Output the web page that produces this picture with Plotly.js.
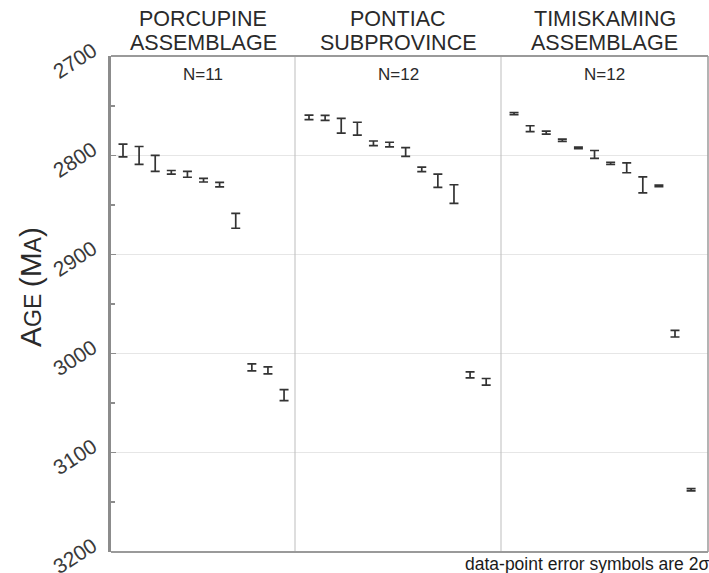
<!DOCTYPE html>
<html>
<head>
<meta charset="utf-8">
<script src="https://cdn.plot.ly/plotly-3.0.1.min.js"></script>
<style>html,body{margin:0;padding:0;background:#fff;}#chart{width:709px;height:573px;}</style>
</head>
<body>
<div id="chart"></div>
<script>
// Panel names and sample counts
const panelLine1 = ["PORCUPINE", "PONTIAC", "TIMISKAMING"];
const panelLine2 = ["ASSEMBLAGE", "SUBPROVINCE", "ASSEMBLAGE"];
const panelCounts = ["N=11", "N=12", "N=12"];

// Ages (Ma) and 2-sigma errors
const porcupineAge = [2795, 2800, 2808, 2817, 2819, 2825, 2829.5, 2866, 3014, 3017, 3042];
const porcupineErr = [6.5, 9, 8, 1.8, 3, 1.8, 2.3, 7.5, 3.5, 3.5, 5.5];

const pontiacAge = [2761.5, 2762, 2770, 2773, 2787.7, 2789, 2796.5, 2814, 2825.6, 2839, 3021.6, 3028.6];
const pontiacErr = [2.3, 2.5, 7.5, 6.5, 2.3, 2.3, 4.4, 2.3, 6.7, 9.4, 3, 3.4];

const timiskamingAge = [2757.8, 2773, 2777, 2784.7, 2792.4, 2799, 2808, 2812.5, 2829.7, 2830.7, 2980, 3137.5];
const timiskamingErr = [1.1, 3, 1.5, 1.1, 0.8, 4, 1.1, 5, 8, 0.8, 3.3, 1.1];

const yTickVals = [2700, 2800, 2900, 3000, 3100, 3200];
const yTickText = ["2700", "2800", "2900", "3000", "3100", "3200"];

function idx(arr){ return arr.map((_, i) => i + 1); }

const errStyle = {thickness: 1.7, width: 4.5, color: '#333'};
function trace(ages, errs, xa){
  return {
    x: idx(ages), y: ages, xaxis: xa, yaxis: 'y',
    type: 'scatter', mode: 'markers',
    marker: {size: 1, color: 'rgba(0,0,0,0)'},
    error_y: Object.assign({type: 'data', array: errs, visible: true, symmetric: true}, errStyle),
    hoverinfo: 'y', showlegend: false
  };
}

const data = [
  trace(porcupineAge, porcupineErr, 'x'),
  trace(pontiacAge, pontiacErr, 'x2'),
  trace(timiskamingAge, timiskamingErr, 'x3')
];

const W = 597;
const d1 = 184 / W, d2 = 390 / W;
const xbase = {showgrid: false, zeroline: false, showticklabels: false, ticks: '', showline: false, fixedrange: true};

const font = "Liberation Sans, Arial, Helvetica, sans-serif";
const centers = [d1 / 2, (d1 + d2) / 2, (d2 + 1) / 2];

const annotations = [];
panelLine1.forEach((t, i) => {
  annotations.push({xref: 'paper', yref: 'paper', x: centers[i], y: 1, yshift: 37, text: t, showarrow: false,
    xanchor: 'center', yanchor: 'middle', font: {family: font, size: 21.5, color: '#2a2a2a'}});
  annotations.push({xref: 'paper', yref: 'paper', x: centers[i], y: 1, yshift: 13, text: panelLine2[i], showarrow: false,
    xanchor: 'center', yanchor: 'middle', font: {family: font, size: 21.5, color: '#2a2a2a'}});
  annotations.push({xref: 'paper', yref: 'paper', x: centers[i], y: 1, yshift: -18, text: panelCounts[i], showarrow: false,
    xanchor: 'center', yanchor: 'middle', font: {family: font, size: 17, color: '#2a2a2a'}});
});
annotations.push({xref: 'paper', yref: 'paper', x: 1, xshift: 3, y: 0, yshift: -12, text: 'data-point error symbols are 2σ',
  showarrow: false, xanchor: 'right', yanchor: 'middle', font: {family: font, size: 17.5, color: '#1a1a1a'}});
annotations.push({xref: 'paper', yref: 'paper', x: 0, xshift: -81, y: 0.5, yshift: 17,
  text: '<span style="font-size:30px">A</span>GE <span style="font-size:30px">(M</span>A<span style="font-size:30px">)</span>',
  showarrow: false, textangle: -90, xanchor: 'center', yanchor: 'middle', font: {family: font, size: 23, color: '#2a2a2a'}});

const shapes = [
  {type: 'line', xref: 'paper', yref: 'paper', x0: d1, x1: d1, y0: 0, y1: 1, line: {color: '#bdbdbd', width: 1}},
  {type: 'line', xref: 'paper', yref: 'paper', x0: d2, x1: d2, y0: 0, y1: 1, line: {color: '#bdbdbd', width: 1}},
  {type: 'line', xref: 'paper', yref: 'paper', x0: 0, x1: 1, y0: 1, y1: 1, line: {color: '#9a9a9a', width: 2}},
  {type: 'line', xref: 'paper', yref: 'paper', x0: 0, x1: 1, y0: 0, y1: 0, line: {color: '#9a9a9a', width: 2}},
  {type: 'line', xref: 'paper', yref: 'paper', x0: 1, x1: 1, y0: 0, y1: 1, line: {color: '#9a9a9a', width: 1.5}}
];

const layout = {
  width: 709, height: 573,
  margin: {l: 111, r: 1, t: 56, b: 21, pad: 0},
  paper_bgcolor: '#fff', plot_bgcolor: '#fff',
  showlegend: false,
  xaxis: Object.assign({domain: [0, d1], range: [0.255, 11.68]}, xbase),
  xaxis2: Object.assign({domain: [d1, d2], range: [0.13, 12.92]}, xbase),
  xaxis3: Object.assign({domain: [d2, 1], range: [0.19, 13.05]}, xbase),
  yaxis: {
    range: [3200.4, 2699.6], tickvals: yTickVals, ticktext: yTickText,
    tickangle: -33, tickfont: {family: font, size: 21, color: '#3a3a3a'},
    ticks: 'inside', ticklen: 5, tickcolor: '#8c8c8c', tickwidth: 1.5,
    minor: {dtick: 50, ticks: 'inside', ticklen: 4, tickcolor: '#8c8c8c', tickwidth: 1.5, showgrid: false},
    showgrid: true, gridcolor: '#e6e6e6', gridwidth: 1,
    showline: true, linecolor: '#8c8c8c', linewidth: 3,
    zeroline: false, ticklabelstandoff: 11, ticklabelshift: 8, ticklabeloverflow: 'allow', fixedrange: true
  },
  annotations: annotations,
  shapes: shapes
};

Plotly.newPlot('chart', data, layout, {staticPlot: true, displayModeBar: false});
</script>
</body>
</html>
